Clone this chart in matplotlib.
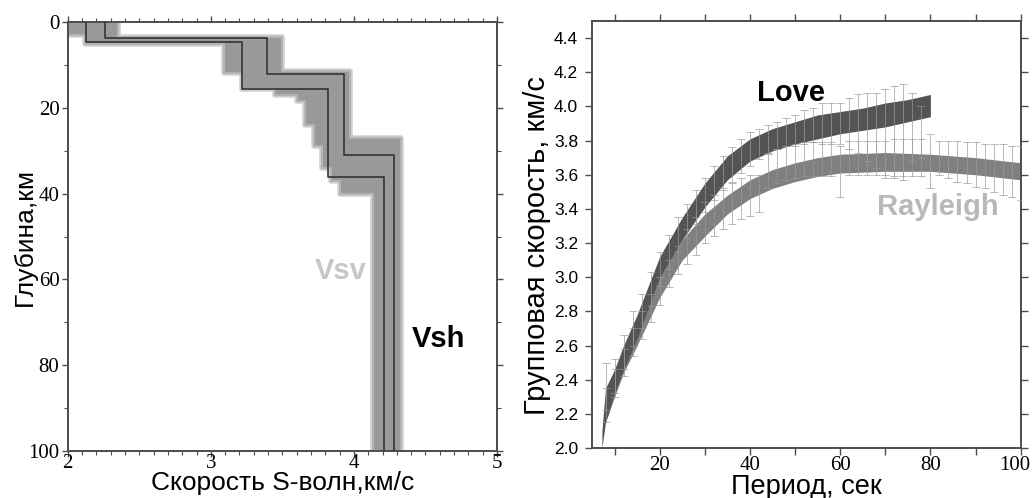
import numpy as np
import matplotlib
matplotlib.use("Agg")
import matplotlib.pyplot as plt
from matplotlib.ticker import MultipleLocator, FormatStrFormatter, FixedLocator, FixedFormatter

# ---------------- data: left panel (S-wave velocity profiles) ----------------
vsv_vel = [2.13, 3.22, 3.82, 4.21]
vsv_bounds = [4.7, 15.6, 36.2]

vsh_vel = [2.26, 3.39, 3.93, 4.28]
vsh_bounds = [3.7, 12.2, 31.0]

max_depth = 100

# envelope of the model ensemble (velocity, depth)
band_right_v = [2.35, 2.35, 3.50, 3.50, 3.97, 3.97, 4.33, 4.33]
band_right_d = [0.0, 3.4, 3.4, 11.5, 11.5, 27.0, 27.0, 100.0]
band_left_v = [2.00, 2.00, 2.12, 2.12, 3.09, 3.09, 3.22, 3.22, 3.45, 3.45, 3.60, 3.60, 3.66,
               3.66, 3.72, 3.72, 3.78, 3.78, 3.84, 3.84, 3.90, 3.90, 4.13, 4.13]
band_left_d = [0.0, 3.0, 3.0, 5.2, 5.2, 11.9, 11.9, 15.6, 15.6, 17.0, 17.0, 18.5, 18.5,
               24.0, 24.0, 29.0, 29.0, 34.0, 34.0, 37.0, 37.0, 40.0, 40.0, 100.0]

# ---------------- data: right panel (group velocity dispersion) ----------------
period_ticks = [20, 40, 60, 80, 100]
period_labels = ["20", "40", "60", "80", "100"]

love_T = [7.2, 8, 10, 12, 15, 20, 25, 30, 35, 40, 45, 50, 55, 60, 65, 70, 75, 80]
love_lo = [2.0, 2.15, 2.32, 2.46, 2.64, 3.00, 3.22, 3.41, 3.57, 3.68, 3.74, 3.78, 3.81, 3.84, 3.86, 3.88, 3.91, 3.94]
love_hi = [2.1, 2.35, 2.46, 2.60, 2.78, 3.12, 3.35, 3.55, 3.71, 3.81, 3.87, 3.91, 3.95, 3.97, 3.99, 4.02, 4.04, 4.07]

ray_T = [8, 10, 12, 15, 20, 25, 30, 35, 40, 45, 50, 55, 60, 70, 80, 90, 100]
ray_lo = [2.15, 2.30, 2.44, 2.60, 2.88, 3.10, 3.24, 3.37, 3.46, 3.52, 3.56, 3.59, 3.61, 3.62, 3.62, 3.60, 3.57]
ray_hi = [2.28, 2.42, 2.56, 2.72, 3.01, 3.22, 3.37, 3.48, 3.57, 3.63, 3.67, 3.70, 3.72, 3.73, 3.72, 3.70, 3.67]

love_obs_T = [8, 10, 12, 14, 16, 18, 20, 22, 24, 26, 28, 30, 32, 34, 36, 38, 40, 42, 44,
              46, 48, 50, 52, 54, 56, 58, 60, 62, 64, 66, 68, 70, 72, 74, 76, 78]
love_obs_v = [2.36, 2.42, 2.56, 2.70, 2.80, 2.93, 3.05, 3.15, 3.25, 3.33, 3.41, 3.48, 3.55, 3.61,
              3.66, 3.71, 3.75, 3.78, 3.81, 3.83, 3.85, 3.86, 3.88, 3.89, 3.90, 3.90, 3.90, 3.90,
              3.90, 3.88, 3.86, 3.85, 3.85, 3.85, 3.88, 3.85]
love_obs_e = [0.14, 0.10, 0.10, 0.10, 0.10, 0.10, 0.10, 0.10, 0.10, 0.10, 0.10, 0.10, 0.10, 0.10,
              0.10, 0.10, 0.10, 0.09, 0.08, 0.08, 0.08, 0.09, 0.10, 0.10, 0.12, 0.12, 0.12, 0.15,
              0.17, 0.20, 0.22, 0.25, 0.27, 0.28, 0.20, 0.15]

ray_obs_T = [8, 10, 12, 14, 16, 18, 20, 22, 24, 26, 28, 30, 32, 34, 36, 38, 40, 42, 44, 46, 48,
             50, 52, 54, 56, 58, 60, 62, 64, 66, 68, 70, 72, 74, 76, 78, 80, 82, 84, 86, 88, 90,
             92, 94, 96, 98, 100]
ray_obs_v = [2.25, 2.38, 2.50, 2.62, 2.72, 2.82, 2.92, 3.02, 3.10, 3.18, 3.24, 3.32, 3.36, 3.40,
             3.43, 3.46, 3.48, 3.49, 3.62, 3.65, 3.67, 3.68, 3.69, 3.69, 3.69, 3.69, 3.62, 3.70,
             3.70, 3.70, 3.70, 3.69, 3.70, 3.70, 3.70, 3.70, 3.68, 3.70, 3.69, 3.68, 3.67, 3.66,
             3.65, 3.64, 3.63, 3.62, 3.61]
ray_obs_e = [0.10, 0.08, 0.08, 0.08, 0.08, 0.08, 0.08, 0.08, 0.08, 0.10, 0.11, 0.12, 0.12, 0.12,
             0.12, 0.12, 0.12, 0.11, 0.10, 0.10, 0.10, 0.10, 0.10, 0.10, 0.10, 0.10, 0.15, 0.10,
             0.10, 0.10, 0.10, 0.11, 0.11, 0.11, 0.11, 0.11, 0.16, 0.10, 0.11, 0.12, 0.12, 0.13,
             0.13, 0.14, 0.15, 0.15, 0.16]

SERIF = ["Liberation Serif", "DejaVu Serif"]
SANS = ["Liberation Sans", "DejaVu Sans"]

fig = plt.figure(figsize=(10.34, 4.98), dpi=100)
ax1 = fig.add_axes([0.0655, 0.0944, 0.4152, 0.8614])
ax2 = fig.add_axes([0.5725, 0.1004, 0.4146, 0.8574])


def step_profile(vel, bounds):
    xs, ys = [], []
    tops = [0] + list(bounds)
    bots = list(bounds) + [max_depth]
    for v, t, b in zip(vel, tops, bots):
        xs += [v, v]
        ys += [t, b]
    return xs, ys


# grey band of the model ensemble
poly_v = band_right_v + band_left_v[::-1]
poly_d = band_right_d + band_left_d[::-1]
ax1.fill(poly_v, poly_d, facecolor="0.6", edgecolor="0.82", lw=4, joinstyle="round", zorder=1)
ax1.fill(poly_v, poly_d, facecolor="0.6", edgecolor="0.7", lw=1.5, zorder=1.5)

for vel, bounds in [(vsv_vel, vsv_bounds), (vsh_vel, vsh_bounds)]:
    xs, ys = step_profile(vel, bounds)
    ax1.plot(xs, ys, color="0.2", lw=1.2, zorder=3)

ax1.set_xlim(2, 5)
ax1.set_ylim(100, 0)
ax1.xaxis.set_major_locator(MultipleLocator(1))
ax1.xaxis.set_minor_locator(MultipleLocator(0.1))
ax1.yaxis.set_major_locator(MultipleLocator(20))
ax1.yaxis.set_minor_locator(MultipleLocator(10))
ax1.tick_params(which="both", direction="out", top=True, right=True, color="0.3")
ax1.tick_params(which="major", length=4, width=1, labelsize=15)
ax1.tick_params(which="minor", length=3, width=0.8)
ax1.tick_params(axis="x", pad=-2)
ax1.tick_params(axis="y", pad=2)
for lab in ax1.get_xticklabels() + ax1.get_yticklabels():
    lab.set_family(SERIF)
ax1.set_xlabel("Скорость S-волн,км/с", family=SANS, fontsize=19, va="center")
ax1.set_ylabel("Глубина,км", family=SANS, fontsize=19, va="center")
ax1.xaxis.set_label_coords(0.5, (1 - 483 / 498 - 0.0944) / 0.8614)
ax1.yaxis.set_label_coords((25 / 1034 - 0.0655) / 0.4152, 0.5)
ax1.text(3.91, 58, "Vsv", color="0.78", fontsize=21, fontweight="bold", family=SANS,
         ha="center", va="center")
ax1.text(4.59, 74, "Vsh", color="black", fontsize=21, fontweight="bold", family=SANS,
         ha="center", va="center")

# right panel
ax2.fill_between(ray_T, ray_lo, ray_hi, color="0.5", lw=0, zorder=2)
ax2.fill_between(love_T, love_lo, love_hi, color="0.33", lw=0, zorder=3)
ax2.errorbar(ray_obs_T, ray_obs_v, yerr=ray_obs_e, fmt="none", ecolor="0.6", elinewidth=0.6,
             capsize=3, capthick=0.6, alpha=0.8, zorder=4)
ax2.errorbar(love_obs_T, love_obs_v, yerr=love_obs_e, fmt="none", ecolor="0.6", elinewidth=0.6,
             capsize=3, capthick=0.6, alpha=0.8, zorder=4)

ax2.set_xlim(5, 100)
ax2.set_ylim(2.0, 4.5)
ax2.xaxis.set_major_locator(FixedLocator(period_ticks))
ax2.xaxis.set_major_formatter(FixedFormatter(period_labels[:-1] + [""]))
ax2.xaxis.set_minor_locator(MultipleLocator(10))
ax2.set_yticks(np.arange(2.0, 4.41, 0.2))
ax2.yaxis.set_major_formatter(FormatStrFormatter("%.1f"))
ax2.tick_params(which="both", direction="out", top=True, right=True, color="0.3")
ax2.tick_params(which="major", length=5, width=1)
ax2.tick_params(which="minor", length=5, width=1)
ax2.tick_params(axis="x", labelsize=15, pad=1)
ax2.tick_params(axis="y", labelsize=12.5, pad=5)
for lab in ax2.get_xticklabels():
    lab.set_family(SERIF)
for lab in ax2.get_yticklabels():
    lab.set_family(SANS)
# last period label nudged so it stays inside the figure
ax2.annotate(period_labels[-1], xy=(period_ticks[-1], 0), xycoords=("data", "axes fraction"),
             xytext=(-4, -6), textcoords="offset points", ha="center", va="top",
             fontsize=15, family=SERIF, annotation_clip=False)
ax2.set_xlabel("Период, сек", family=SANS, fontsize=19.5, va="center")
ax2.set_ylabel("Групповая скорость, км/с", family=SANS, fontsize=21, va="center")
ax2.xaxis.set_label_coords(0.5, (1 - 487 / 498 - 0.1004) / 0.8574)
ax2.yaxis.set_label_coords((537 / 1034 - 0.5725) / 0.4146, (1 - 245.5 / 498 - 0.1004) / 0.8574)
ax2.text(49, 4.08, "Love", color="black", fontsize=21, fontweight="bold", family=SANS,
         ha="center", va="center", zorder=5)
ax2.text(81.6, 3.41, "Rayleigh", color="0.72", fontsize=21, fontweight="bold", family=SANS,
         ha="center", va="center", zorder=5)

for ax in (ax1, ax2):
    for s in ax.spines.values():
        s.set_color("0.3")
        s.set_linewidth(1.4)

fig.savefig("out.png", dpi=100)
